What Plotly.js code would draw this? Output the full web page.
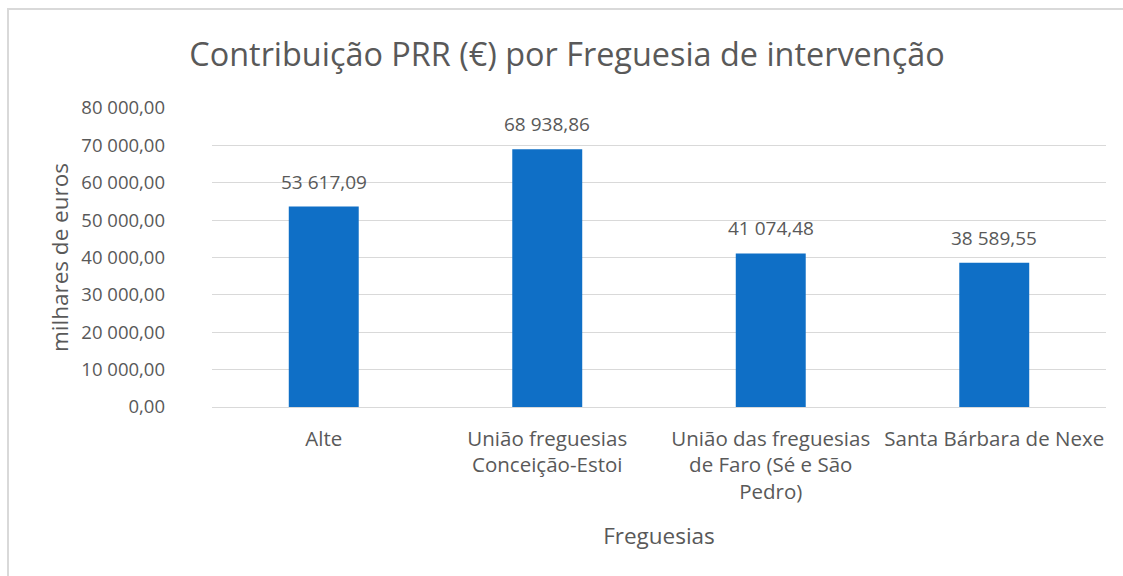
<!DOCTYPE html>
<html>
<head>
<meta charset="utf-8">
<script src="https://cdn.plot.ly/plotly-3.0.1.min.js"></script>
<style>
  html, body { margin: 0; padding: 0; background: #ffffff; overflow: hidden; }
  #wrap { position: relative; width: 1123px; height: 576px; overflow: hidden; background: #ffffff; }
  #chart { width: 1123px; height: 576px; }
  #frameTop { position: absolute; left: 7px; top: 8px; width: 1116px; height: 2px;
              background: #d9d9d9; pointer-events: none; }
  #frameLeft { position: absolute; left: 7px; top: 8px; width: 2px; height: 568px;
               background: #d9d9d9; pointer-events: none; }
</style>
</head>
<body>
<div id="wrap">
  <div id="chart"></div>
  <div id="frameTop"></div>
  <div id="frameLeft"></div>
</div>
<script>
const categories = [
  "Alte",
  "União freguesias<br>Conceição-Estoi",
  "União das freguesias<br>de Faro (Sé e São<br>Pedro)",
  "Santa Bárbara de Nexe"
];
const values = [53617.09, 68938.86, 41074.48, 38589.55];
const yTickValues = [0, 10000, 20000, 30000, 40000, 50000, 60000, 70000, 80000];

const FONT = "'Open Sans', 'Noto Sans', sans-serif";
const GREY = "#595959";

const trace = {
  type: "bar",
  x: categories,
  y: values,
  marker: { color: "#0F6FC6" },
  hoverinfo: "skip"
};

const fmt = v => v.toFixed(2).replace(".", ",").replace(/\B(?=(\d{3})+(?!\d))/g, " ");

const labelAnnotations = categories.map((c, i) => ({
  x: c, y: values[i], xref: "x", yref: "y",
  text: fmt(values[i]),
  showarrow: false,
  yanchor: "bottom",
  yshift: 10,
  font: { family: FONT, size: 19, color: GREY }
}));

const layout = {
  width: 1123,
  height: 576,
  margin: { l: 212, r: 17, t: 108, b: 169, pad: 0 },
  paper_bgcolor: "#ffffff",
  plot_bgcolor: "#ffffff",
  separators: ", ",
  bargap: 0.687,
  showlegend: false,
  font: { family: FONT, color: GREY, size: 18.5 },
  title: {
    text: "Contribuição PRR (€) por Freguesia de intervenção",
    font: { family: FONT, size: 32.4, color: GREY },
    x: 567 / 1123, xanchor: "center",
    xref: "container",
    y: 1 - 55 / 576, yanchor: "middle", yref: "container"
  },
  annotations: labelAnnotations,
  xaxis: {
    type: "category",
    showgrid: false,
    showline: false,
    zeroline: false,
    ticks: "",
    tickfont: { family: FONT, size: 20.5, color: GREY },
    ticklabelstandoff: 17,
    automargin: false,
    title: {
      text: "Freguesias",
      font: { family: FONT, size: 22.5, color: GREY },
      standoff: 24
    }
  },
  yaxis: {
    range: [0, 80000],
    tickvals: yTickValues,
    tickformat: ",.2f",
    showgrid: true,
    gridcolor: "#d9d9d9",
    gridwidth: 1,
    zeroline: true,
    zerolinecolor: "#d9d9d9",
    zerolinewidth: 1,
    showline: false,
    ticks: "",
    ticklabelstandoff: 46,
    tickfont: { family: FONT, size: 18.5, color: GREY },
    automargin: false,
    title: {
      text: "milhares de euros",
      font: { family: FONT, size: 22.5, color: GREY },
      standoff: 6
    }
  }
};

Plotly.newPlot("chart", [trace], layout, { staticPlot: true, displayModeBar: false });
</script>
</body>
</html>
